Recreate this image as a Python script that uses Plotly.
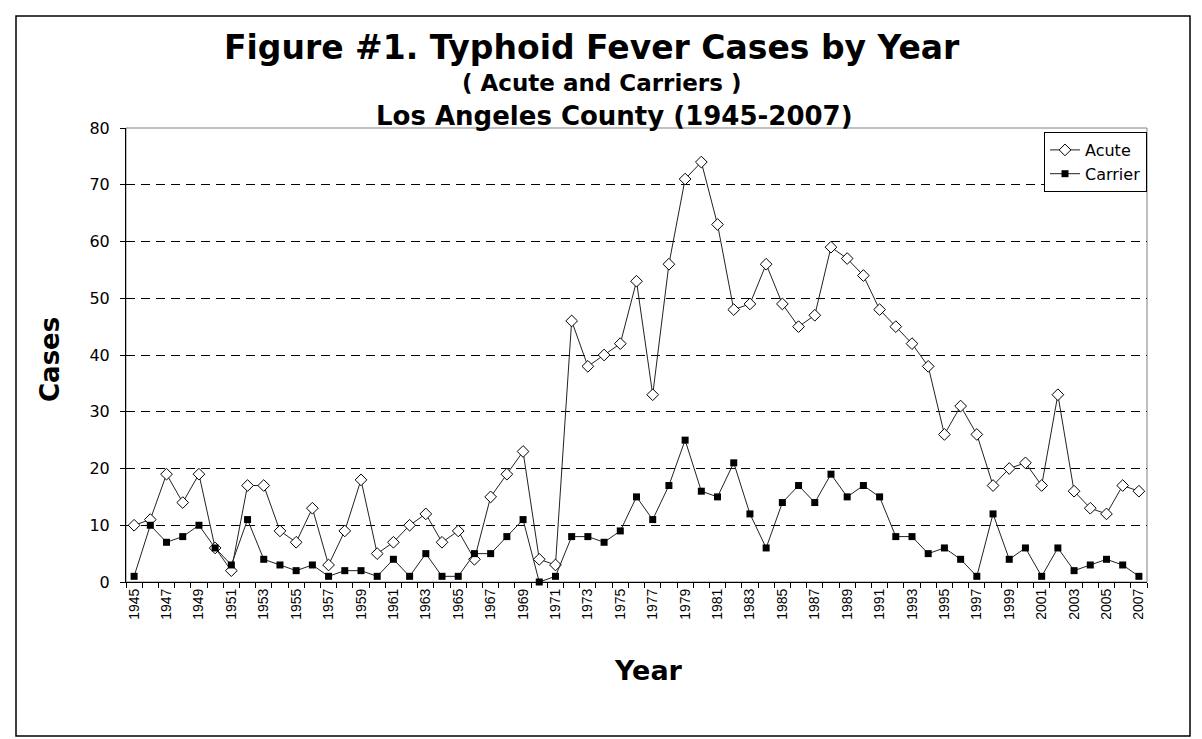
import plotly.graph_objects as go

# Typhoid fever cases, Los Angeles County 1945-2007
years = list(range(1945, 2008))
acute = [10, 11, 19, 14, 19, 6, 2, 17, 17, 9,
         7, 13, 3, 9, 18, 5, 7, 10, 12, 7,
         9, 4, 15, 19, 23, 4, 3, 46, 38, 40,
         42, 53, 33, 56, 71, 74, 63, 48, 49, 56,
         49, 45, 47, 59, 57, 54, 48, 45, 42, 38,
         26, 31, 26, 17, 20, 21, 17, 33, 16, 13,
         12, 17, 16]
carrier = [1, 10, 7, 8, 10, 6, 3, 11, 4, 3,
           2, 3, 1, 2, 2, 1, 4, 1, 5, 1,
           1, 5, 5, 8, 11, 0, 1, 8, 8, 7,
           9, 15, 11, 17, 25, 16, 15, 21, 12, 6,
           14, 17, 14, 19, 15, 17, 15, 8, 8, 5,
           6, 4, 1, 12, 4, 6, 1, 6, 2, 3,
           4, 3, 1]
label_years = years[::2]

W, H = 1202, 739
L, R, T, B = 118, 1139, 120, 574
PW, PH = R - L, B - T


def px(x):
    return (x - L) / PW


def py(y):
    return (B - y) / PH


FONT = "DejaVu Sans"

fig = go.Figure()
fig.add_trace(go.Scatter(
    x=years, y=acute, name="Acute", mode="lines+markers",
    line=dict(color="#222222", width=1),
    marker=dict(symbol="diamond", size=9, color="white",
                line=dict(color="black", width=1)),
    cliponaxis=False,
))
fig.add_trace(go.Scatter(
    x=years, y=carrier, name="Carrier", mode="lines+markers",
    line=dict(color="#222222", width=1),
    marker=dict(symbol="square", size=7, color="black",
                line=dict(color="black", width=0)),
    cliponaxis=False,
))

fig.update_layout(
    width=W, height=H,
    margin=dict(l=L, r=W - R, t=T, b=H - B, pad=0),
    paper_bgcolor="white", plot_bgcolor="white",
    font=dict(family=FONT, color="black"),
    showlegend=True,
    legend=dict(
        x=1, xanchor="right", y=py(124), yanchor="top",
        bgcolor="white", bordercolor="black", borderwidth=1,
        font=dict(family=FONT, size=16, color="black"),
        tracegroupgap=0, itemwidth=30,
    ),
    xaxis=dict(
        range=[years[0] - 0.5, years[-1] + 0.5],
        tickmode="array", tickvals=label_years,
        ticktext=[str(y) for y in label_years],
        tickangle=-90, ticks="",
        tickfont=dict(family="Liberation Sans", size=14, color="black"),
        showgrid=False, zeroline=False,
        showline=True, linecolor="black", linewidth=1,
        minor=dict(tick0=years[0] - 0.5, dtick=1, ticks="outside",
                   ticklen=5, tickcolor="black", showgrid=False),
    ),
    yaxis=dict(
        range=[0, 80], dtick=10, tick0=0,
        ticks="outside", ticklen=5, tickcolor="black",
        ticklabelstandoff=7,
        tickfont=dict(family=FONT, size=16, color="black"),
        showgrid=True, gridcolor="black", gridwidth=1,
        griddash="9px,6px",
        zeroline=False,
        showline=True, linecolor="black", linewidth=1,
    ),
)

# plot area frame (grey top/right), outer chart border
fig.add_shape(type="rect", xref="paper", yref="paper", x0=0, x1=1, y0=0, y1=1,
              line=dict(color="#808080", width=1), layer="below")
fig.add_shape(type="rect", xref="paper", yref="paper",
              x0=px(8), x1=px(1182), y0=py(728), y1=py(8),
              line=dict(color="black", width=1.5))

# titles
fig.add_annotation(text="<b>Figure #1. Typhoid Fever Cases by Year</b>",
                   xref="paper", yref="paper", x=px(584), y=py(39),
                   xanchor="center", yanchor="middle", showarrow=False,
                   font=dict(family=FONT, size=33, color="black"))
fig.add_annotation(text="<b>( Acute and Carriers )</b>",
                   xref="paper", yref="paper", x=px(593), y=py(75),
                   xanchor="center", yanchor="middle", showarrow=False,
                   font=dict(family=FONT, size=23, color="black"))
fig.add_annotation(text="<b>Los Angeles County (1945-2007)</b>",
                   xref="paper", yref="paper", x=px(606), y=py(108),
                   xanchor="center", yanchor="middle", showarrow=False,
                   font=dict(family=FONT, size=26, color="black"))
fig.add_annotation(text="<b>Year</b>",
                   xref="paper", yref="paper", x=px(640), y=py(662),
                   xanchor="center", yanchor="middle", showarrow=False,
                   font=dict(family=FONT, size=27, color="black"))
fig.add_annotation(text="<b>Cases</b>", textangle=-90,
                   xref="paper", yref="paper", x=px(42), y=py(352),
                   xanchor="center", yanchor="middle", showarrow=False,
                   font=dict(family=FONT, size=26, color="black"))

fig.write_html("out.html")
